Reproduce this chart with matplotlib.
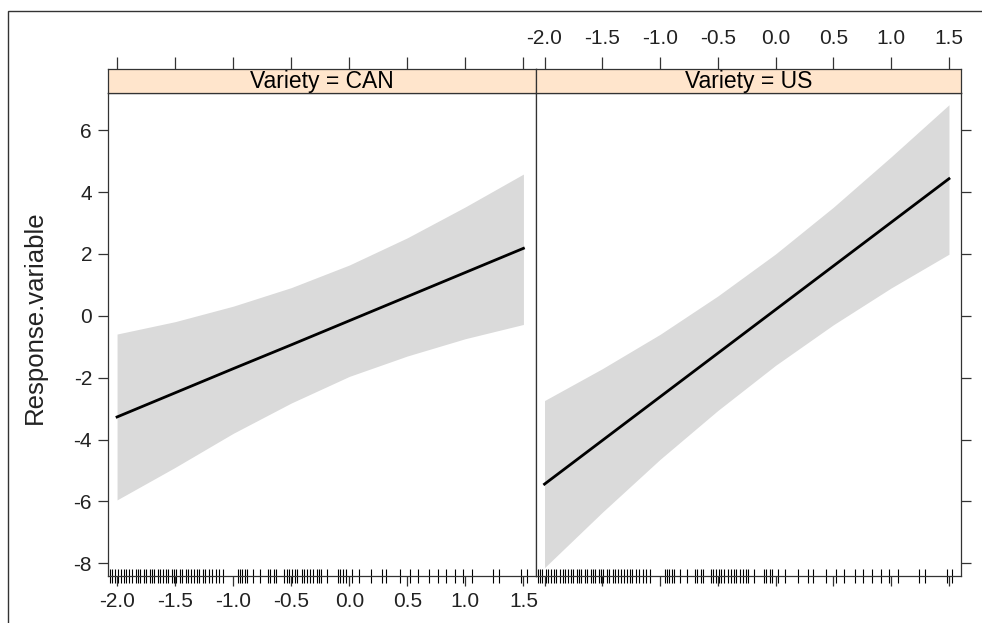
import numpy as np
import matplotlib
matplotlib.use("Agg")
import matplotlib.pyplot as plt
from matplotlib.patches import Rectangle

plt.rcParams["font.family"] = ["Liberation Sans", "DejaVu Sans"]
plt.rcParams["axes.unicode_minus"] = False

# ---- data ----
x_grid = [-2.0, -1.5, -1.0, -0.5, 0.0, 0.5, 1.0, 1.5]

can_fit = [-3.27, -2.49, -1.71, -0.94, -0.16, 0.62, 1.40, 2.18]
can_upper = [-0.59, -0.19, 0.31, 0.91, 1.64, 2.52, 3.52, 4.58]
can_lower = [-5.95, -4.90, -3.80, -2.82, -1.96, -1.30, -0.74, -0.28]

us_fit = [-5.44, -4.03, -2.62, -1.21, 0.20, 1.61, 3.02, 4.43]
us_upper = [-2.74, -1.71, -0.60, 0.64, 2.00, 3.51, 5.14, 6.82]
us_lower = [-8.14, -6.35, -4.64, -3.06, -1.60, -0.29, 0.90, 1.99]

rug_x = [-2.06, -2.04, -2.02, -1.99, -1.97, -1.94, -1.92, -1.90, -1.87, -1.84,
         -1.82, -1.80, -1.77, -1.75, -1.72, -1.70, -1.68, -1.65, -1.63, -1.60,
         -1.58, -1.56, -1.53, -1.51, -1.49, -1.46, -1.44, -1.41, -1.39, -1.36,
         -1.34, -1.31, -1.29, -1.26, -1.24, -1.21, -1.18, -1.15, -1.12, -1.09,
         -0.96, -0.94, -0.92, -0.90, -0.88, -0.83, -0.77, -0.70, -0.68, -0.65,
         -0.63, -0.56, -0.54, -0.52, -0.49, -0.47, -0.45, -0.41, -0.39, -0.36,
         -0.34, -0.31, -0.28, -0.26, -0.24, -0.19, -0.10, -0.08, -0.05, -0.03,
         0.02, 0.08, 0.19, 0.28, 0.32, 0.44, 0.52, 0.59, 0.69, 0.76,
         0.83, 0.91, 0.98, 1.06, 1.24, 1.29, 1.48, 1.53]

panels = [("Variety = CAN", can_fit, can_upper, can_lower),
          ("Variety = US", us_fit, us_upper, us_lower)]

x_ticks = [-2.0, -1.5, -1.0, -0.5, 0.0, 0.5, 1.0, 1.5]
y_ticks = [-8, -6, -4, -2, 0, 2, 4, 6]
XLIM = (-2.078, 1.604)
YLIM = (-8.40, 7.20)

W, H = 982, 623
fig = plt.figure(figsize=(W / 100, H / 100), dpi=100)


def frac(x0, y0, x1, y1):
    # pixel box (top-left origin) -> figure fraction rect
    return [x0 / W, 1 - y1 / H, (x1 - x0) / W, (y1 - y0) / H]


# outer frame like the device border
fig.patches.append(Rectangle((8 / W, -0.1), 1.2, 1 - 11 / H + 0.1, transform=fig.transFigure,
                             fill=False, edgecolor="#333333", linewidth=1.0))

panel_x = [(108, 535.5), (535.5, 961)]
TXT = "#222222"
TICK_FS = 15
for i, (label, fit, up, lo) in enumerate(panels):
    x0, x1 = panel_x[i]
    ax = fig.add_axes(frac(x0, 93, x1, 575.7))
    ax.fill_between(x_grid, lo, up, color="#dadada", linewidth=0)
    ax.plot(x_grid, fit, color="black", linewidth=2.0)
    # rug along the bottom
    ax.plot(rug_x, [0] * len(rug_x), "|", color="black", markersize=10,
            markeredgewidth=0.8, transform=ax.get_xaxis_transform(), clip_on=False)
    ax.set_xlim(*XLIM)
    ax.set_ylim(*YLIM)
    ax.set_xticks(x_ticks)
    ax.set_yticks(y_ticks)
    ax.tick_params(direction="out", length=7.5, width=0.9, colors="#333333",
                   labelsize=TICK_FS, labelcolor=TXT, pad=4)
    if i == 0:
        ax.tick_params(left=True, labelleft=True, right=False,
                       bottom=True, labelbottom=True, top=False)
        ax.set_xticklabels([f"{v:.1f}" for v in x_ticks])
        ax.set_ylabel("Response.variable", fontsize=18.5, color=TXT)
        ax.yaxis.set_label_coords(-0.143, 0.535)
    else:
        ax.tick_params(left=False, labelleft=False, right=True, labelright=False,
                       bottom=True, labelbottom=False, top=False)
    for s in ax.spines.values():
        s.set_color("#333333")
        s.set_linewidth(0.9)

    # strip with ticks above it
    sx = fig.add_axes(frac(x0, 69, x1, 93))
    sx.set_facecolor("#ffe5cc")
    sx.set_xlim(*XLIM)
    sx.set_xticks(x_ticks)
    sx.set_yticks([])
    sx.tick_params(axis="x", direction="out", length=9, width=0.9, colors="#333333",
                   labelsize=TICK_FS, labelcolor=TXT, bottom=False, labelbottom=False,
                   top=True, labeltop=(i == 1), pad=6)
    if i == 1:
        sx.set_xticklabels([f"{v:.1f}" for v in x_ticks])
    for s in sx.spines.values():
        s.set_color("#333333")
        s.set_linewidth(0.9)
    sx.text(0.5, 0.48, label, transform=sx.transAxes, ha="center", va="center",
            fontsize=16.5, color="black")

fig.savefig("out.png", dpi=100)
